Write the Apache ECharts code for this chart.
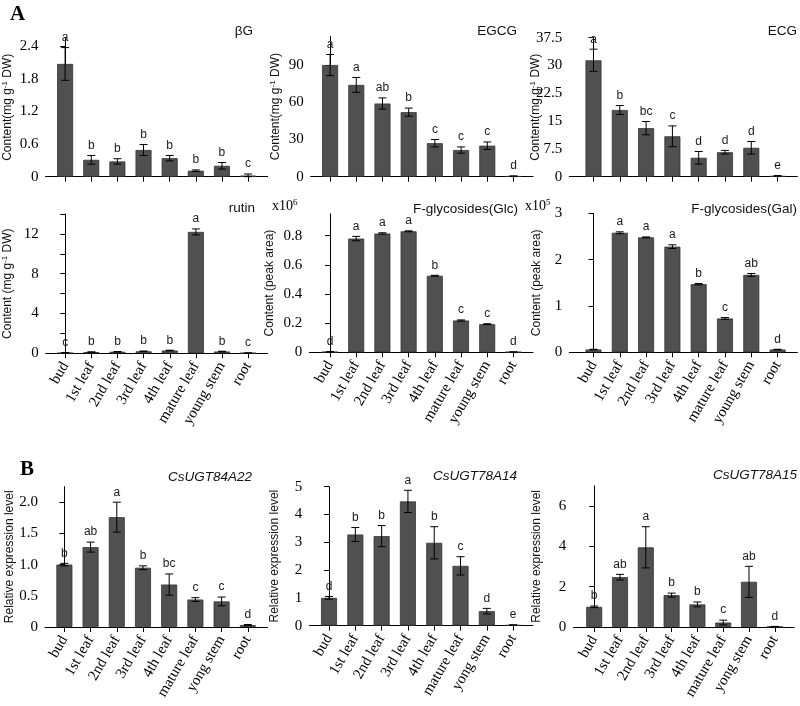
<!DOCTYPE html>
<html><head><meta charset="utf-8">
<script src="https://cdn.jsdelivr.net/npm/echarts@6/dist/echarts.min.js"></script>
<style>html,body{margin:0;padding:0;background:#fff}#c{width:800px;height:706px}</style>
</head><body><div id="c"></div>
<script>
// ---- categories ----
const tissuesA = ['bud','1st leaf','2nd leaf','3rd leaf','4th leaf','mature leaf','young stem','root'];
const tissuesB = ['bud','1st leaf','2nd leaf','3rd leaf','4th leaf','mature leaf','yong stem','root'];

// ---- A: metabolite contents ----
const bgVals = [2.07, 0.31, 0.28, 0.49, 0.34, 0.11, 0.20, 0.02];
const bgErr  = [0.30, 0.08, 0.05, 0.10, 0.05, 0.015, 0.06, 0.03];
const bgLet  = ['a','b','b','b','b','b','b','c'];
const bgTicks = ['0','0.6','1.2','1.8','2.4'];

const egcgVals = [90, 74, 59, 52, 27, 21.5, 25, 0.4];
const egcgErr  = [8.5, 6, 4.5, 3.3, 3, 2.5, 3, 0.3];
const egcgLet  = ['a','a','ab','b','c','c','c','d'];
const egcgTicks = ['0','30','60','90'];

const ecgVals = [31.4, 18.0, 13.1, 10.9, 5.1, 6.6, 7.8, 0.2];
const ecgErr  = [3.0, 1.2, 1.8, 2.8, 1.7, 0.5, 1.7, 0.1];
const ecgLet  = ['a','b','bc','c','d','d','d','e'];
const ecgTicks = ['0','7.5','15','22.5','30','37.5'];

const rutinVals = [0.05, 0.12, 0.15, 0.2, 0.28, 12.2, 0.18, 0.03];
const rutinErr  = [0.02, 0.03, 0.03, 0.03, 0.03, 0.3, 0.03, 0.01];
const rutinLet  = ['c','b','b','b','b','a','b','c'];
const rutinTicks = ['0','4','8','12'];
const rutinMinor = [2, 6, 10, 14];

const glcVals = [0.003, 0.78, 0.815, 0.83, 0.525, 0.218, 0.193, 0.002];
const glcErr  = [0.001, 0.015, 0.005, 0.003, 0.003, 0.004, 0.003, 0.001];
const glcLet  = ['d','a','a','a','b','c','c','d'];
const glcTicks = ['0','0.2','0.4','0.6','0.8'];

const galVals = [0.06, 2.58, 2.48, 2.28, 1.47, 0.73, 1.67, 0.06];
const galErr  = [0.005, 0.02, 0.01, 0.04, 0.015, 0.02, 0.03, 0.005];
const galLet  = ['','a','a','a','b','c','ab','d'];
const galTicks = ['0','1','2','3'];

// ---- B: relative expression ----
const g84Vals = [1.0, 1.28, 1.76, 0.95, 0.68, 0.44, 0.41, 0.03];
const g84Err  = [0.02, 0.08, 0.24, 0.03, 0.17, 0.03, 0.07, 0.01];
const g84Let  = ['b','ab','a','b','bc','c','c','d'];
const g84Ticks = ['0','0.5','1.0','1.5','2.0'];

const g14Vals = [1.0, 3.28, 3.22, 4.47, 2.98, 2.15, 0.52, 0.02];
const g14Err  = [0.05, 0.25, 0.38, 0.4, 0.58, 0.33, 0.1, 0.01];
const g14Let  = ['d','b','b','a','b','c','d','e'];
const g14Ticks = ['0','1','2','3','4','5'];

const g15Vals = [1.0, 2.47, 3.95, 1.58, 1.12, 0.22, 2.24, 0.02];
const g15Err  = [0.04, 0.14, 1.02, 0.1, 0.12, 0.12, 0.77, 0.01];
const g15Let  = ['b','ab','a','b','b','c','ab','d'];
const g15Ticks = ['0','2','4','6'];

const SERIF = '"Liberation Serif","Times New Roman",serif';
const SANS = '"Liberation Sans",Arial,Helvetica,sans-serif';

const nameContent = 'Content(mg g{s|-1} DW)';
const nameContent2 = 'Content (mg g{s|-1} DW)';
const namePeak = 'Content (peak area)';
const nameRel = 'Relative expression level';

const panels = [
  {title:'βG', italic:false, vals:bgVals, errs:bgErr, lets:bgLet, ticks:bgTicks, minor:[], max:2.55, yName:nameContent, cats:null,
   left:45, zero:176.7, top:37.8, xMin:-0.75, band:26.2, nameGap:30.5, titleRight:547, titleY:32},
  {title:'EGCG', italic:false, vals:egcgVals, errs:egcgErr, lets:egcgLet, ticks:egcgTicks, minor:[], max:113, yName:nameContent, cats:null,
   left:310.7, zero:176.7, top:36.5, xMin:-0.74, band:26.2, nameGap:28, titleRight:283, titleY:32},
  {title:'ECG', italic:false, vals:ecgVals, errs:ecgErr, lets:ecgLet, ticks:ecgTicks, minor:[], max:37.5, yName:nameContent, cats:null,
   left:569.3, zero:176.7, top:37.7, xMin:-0.92, band:26.3, nameGap:26.6, titleRight:3, titleY:32},
  {title:'rutin', italic:false, vals:rutinVals, errs:rutinErr, lets:rutinLet, ticks:rutinTicks, minor:rutinMinor, max:14, yName:nameContent2, cats:tissuesA,
   left:45, zero:353.3, top:214, xMin:-0.75, band:26.2, nameGap:30.7, titleRight:545, titleY:209},
  {title:'F-glycosides(Glc)', italic:false, vals:glcVals, errs:glcErr, lets:glcLet, ticks:glcTicks, minor:[], max:0.95, yName:namePeak, cats:tissuesA,
   left:309.3, zero:352.3, top:213.8, xMin:-0.79, band:26.2, nameGap:33.3, titleRight:282, titleY:210, sci:'6', sciLeft:272},
  {title:'F-glycosides(Gal)', italic:false, vals:galVals, errs:galErr, lets:galLet, ticks:galTicks, minor:[], max:3, yName:namePeak, cats:tissuesA,
   left:569.3, zero:352.3, top:213.3, xMin:-0.92, band:26.3, nameGap:26.6, titleRight:3, titleY:210, sci:'5', sciLeft:525},
  {title:'CsUGT84A22', italic:true, vals:g84Vals, errs:g84Err, lets:g84Let, ticks:g84Ticks, minor:[], max:2.25, yName:nameRel, cats:tissuesB,
   left:45, zero:627, top:486.6, xMin:-0.74, band:26.2, nameGap:29.5, titleRight:548, titleY:478},
  {title:'CsUGT78A14', italic:true, vals:g14Vals, errs:g14Err, lets:g14Let, ticks:g14Ticks, minor:[], max:5, yName:nameRel, cats:tissuesB,
   left:309.3, zero:625.6, top:486.7, xMin:-0.75, band:26.3, nameGap:28.3, titleRight:283, titleY:477},
  {title:'CsUGT78A15', italic:true, vals:g15Vals, errs:g15Err, lets:g15Let, ticks:g15Ticks, minor:[], max:7, yName:nameRel, cats:tissuesB,
   left:573.3, zero:627, top:485.8, xMin:-0.81, band:25.8, nameGap:30.6, titleRight:3, titleY:476}
];

const XMAX = 7.75;
const idx = [0,1,2,3,4,5,6,7];

const grid = [], xAxis = [], yAxis = [], series = [], title = [];

function makeRender(lets) {
  return function (params, api) {
    const k = api.value(0), v = api.value(1), e = api.value(2);
    const c = api.coord([k, v]);
    const t = api.coord([k, v + e]);
    const b = api.coord([k, Math.max(0, v - e)]);
    const hw = 4;
    const ls = {stroke:'#000', lineWidth:1};
    const children = [];
    if (e > 0) {
      children.push({type:'line', shape:{x1:c[0], y1:t[1], x2:c[0], y2:b[1]}, style:ls});
      children.push({type:'line', shape:{x1:c[0]-hw, y1:t[1], x2:c[0]+hw, y2:t[1]}, style:ls});
      children.push({type:'line', shape:{x1:c[0]-hw, y1:b[1], x2:c[0]+hw, y2:b[1]}, style:ls});
    }
    const lt = lets[params.dataIndex];
    if (lt) {
      children.push({type:'text', style:{text:lt, x:c[0], y:t[1]-4, align:'center', verticalAlign:'bottom',
        textAlign:'center', textVerticalAlign:'bottom', fontSize:12, fontFamily:SANS, fill:'#1a1a1a'}});
    }
    return {type:'group', children};
  };
}

panels.forEach((p, i) => {
  const width = (XMAX - p.xMin) * p.band;
  grid.push({left:p.left, top:p.top, width:width, height:p.zero - p.top});
  const tickNums = p.ticks.map(Number);
  xAxis.push({
    type:'value', gridIndex:i, min:p.xMin, max:XMAX,
    axisLine:{show:true, lineStyle:{color:'#000', width:1}},
    axisTick:{show:true, customValues:idx, length:5, lineStyle:{color:'#000', width:1}},
    axisLabel:{show:!!p.cats, customValues:idx, rotate:60, margin:10,
      formatter:(v)=> p.cats ? p.cats[Math.round(v)] : '',
      fontFamily:SERIF, fontSize:15, color:'#000'},
    splitLine:{show:false}
  });
  yAxis.push({
    type:'value', gridIndex:i, min:0, max:p.max,
    axisLine:{show:true, lineStyle:{color:'#000', width:1}},
    axisTick:{show:true, customValues:tickNums.concat(p.minor), length:5, lineStyle:{color:'#000', width:1}},
    axisLabel:{customValues:tickNums, margin:7, fontFamily:SERIF, fontSize:15, color:'#000',
      formatter:(v)=>{ let best=0; tickNums.forEach((t,j)=>{ if (Math.abs(t-v) < Math.abs(tickNums[best]-v)) best=j; }); return p.ticks[best]; }},
    splitLine:{show:false},
    name:p.yName, nameLocation:'middle', nameGap:p.nameGap, nameRotate:90, nameMoveOverlap:false,
    nameTextStyle:{fontFamily:SANS, fontSize:12, color:'#111',
      rich:{s:{fontFamily:SANS, fontSize:8, color:'#111', verticalAlign:'top', padding:[0,0,6,0]}}}
  });
  series.push({
    type:'bar', xAxisIndex:i, yAxisIndex:i, barWidth:16, silent:true,
    data:p.vals.map((v,k)=>[k,v]),
    itemStyle:{color:'#505050', borderColor:'#333', borderWidth:0.8}
  });
  series.push({
    type:'custom', xAxisIndex:i, yAxisIndex:i, silent:true, z:5, clip:false,
    data:p.vals.map((v,k)=>[k,v,p.errs[k]]),
    renderItem:makeRender(p.lets)
  });
  title.push({
    text:p.title, right:p.titleRight, top:p.titleY - 8, padding:0,
    textStyle:{fontFamily:SANS, fontSize:13.5, fontWeight:'normal', fontStyle:p.italic?'italic':'normal', color:'#111'}
  });
  if (p.sci) {
    title.push({
      text:'{b|x10}{s|' + p.sci + '}', left:p.sciLeft, top:p.titleY - 12, padding:0,
      textStyle:{fontWeight:'normal', rich:{
        b:{fontFamily:SERIF, fontSize:14, fontWeight:'normal', color:'#000'},
        s:{fontFamily:SERIF, fontSize:9, fontWeight:'normal', color:'#000', verticalAlign:'top', padding:[0,0,7,0]}
      }}
    });
  }
});

title.push({text:'A', left:10, top:4, padding:0, textStyle:{fontFamily:SERIF, fontSize:21, fontWeight:'bold', color:'#000'}});
title.push({text:'B', left:20, top:459, padding:0, textStyle:{fontFamily:SERIF, fontSize:21, fontWeight:'bold', color:'#000'}});

const chart = echarts.init(document.getElementById('c'), null, {renderer:'canvas'});
chart.setOption({animation:false, backgroundColor:'#fff', title, grid, xAxis, yAxis, series});
</script>
</body></html>
